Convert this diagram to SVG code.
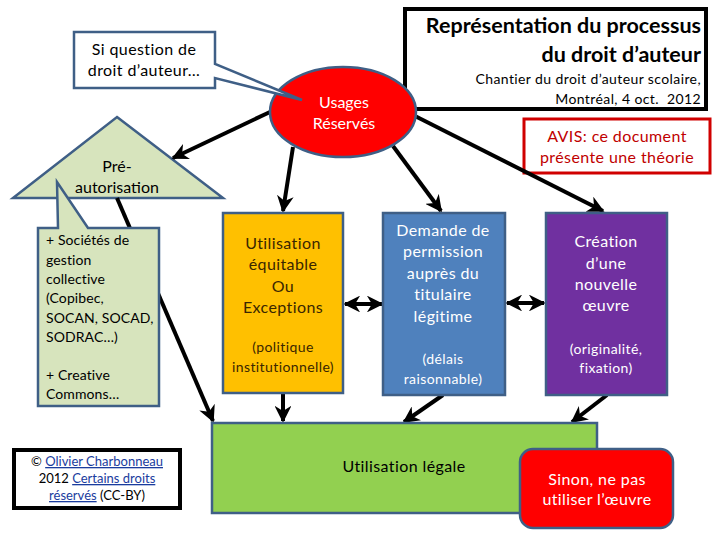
<svg xmlns="http://www.w3.org/2000/svg" width="720" height="540" viewBox="0 0 720 540">
<defs>
<style>
text{font-family:Lato,"Open Sans","Liberation Sans",sans-serif;}
.node{stroke:#3F5F86;stroke-width:2.5;}
.c{text-anchor:middle;}
.w{fill:#FFFFFF;}
.t16{font-size:16px;}
.t14{font-size:14px;}
.ls{letter-spacing:0.4px;}
.conn{stroke:#000;stroke-width:4;fill:none;}
.link{fill:#1A3C9E;text-decoration:underline;}
</style>
<marker id="ah" viewBox="0 0 10 10" refX="9" refY="5" markerWidth="4.2" markerHeight="4.2" orient="auto-start-reverse" markerUnits="strokeWidth">
<path d="M0,0 L10,5 L0,10 L3,5 z" fill="#000"/>
</marker>
</defs>
<rect width="720" height="540" fill="#FFFFFF"/>

<g id="title">
<rect x="405" y="9" width="301" height="100" fill="#FFFFFF" stroke="#000" stroke-width="4"/>
<text x="701" y="33" text-anchor="end" font-size="21.5" font-weight="bold">Représentation du processus</text>
<text x="701" y="62" text-anchor="end" font-size="21.5" font-weight="bold">du droit d’auteur</text>
<text x="701" y="84" text-anchor="end" class="t14 ls">Chantier du droit d’auteur scolaire,</text>
<text x="701" y="104" text-anchor="end" class="t14 ls" xml:space="preserve" style="white-space:pre">Montréal, 4 oct.  2012</text>
</g>

<g id="avis">
<rect x="524" y="119" width="186" height="54" fill="#FFFFFF" stroke="#D00000" stroke-width="3"/>
<text x="617" y="142" class="c t16 ls" fill="#C00000">AVIS: ce document</text>
<text x="617" y="163" class="c t16 ls" fill="#C00000">présente une théorie</text>
</g>

<g id="preautorisation">
<polygon points="117,117 223,198 13,198" fill="#D7E4BD" class="node"/>
<text x="117" y="172" class="c t16">Pré-</text>
<text x="117" y="193" class="c t16">autorisation</text>
</g>

<g id="connectors">
<line x1="270" y1="112" x2="173" y2="158" class="conn" marker-end="url(#ah)"/>
<line x1="293" y1="147" x2="283" y2="211" class="conn" marker-end="url(#ah)"/>
<line x1="393" y1="146" x2="441" y2="211" class="conn" marker-end="url(#ah)"/>
<line x1="413" y1="115" x2="603" y2="211" class="conn" marker-end="url(#ah)"/>
<line x1="117" y1="198" x2="213" y2="421" class="conn" marker-end="url(#ah)"/>
<line x1="283" y1="393" x2="283" y2="421" class="conn" marker-end="url(#ah)"/>
<line x1="443" y1="395" x2="404" y2="422" class="conn" marker-end="url(#ah)"/>
<line x1="607" y1="395" x2="572" y2="422" class="conn" marker-end="url(#ah)"/>
<line x1="345" y1="304" x2="382" y2="304" class="conn" marker-start="url(#ah)" marker-end="url(#ah)"/>
<line x1="507" y1="303" x2="544" y2="303" class="conn" marker-start="url(#ah)" marker-end="url(#ah)"/>
</g>

<g id="usages">
<ellipse cx="343" cy="112" rx="73" ry="45" fill="#FF0000" class="node"/>
<text x="344" y="108" class="c t16 w">Usages</text>
<text x="344" y="129" class="c t16 w">Réservés</text>
</g>

<g id="question">
<path d="M74,32 H215 V64 L302,100 L215,78 V88 H74 Z" fill="#FFFFFF" class="node"/>
<text x="144" y="55" class="c t16 ls">Si question de</text>
<text x="144" y="76" class="c t16 ls">droit d’auteur…</text>
</g>

<g id="societes">
<path d="M58,228 L57,182 L88,228 H159 V406 H38 V228 Z" fill="#D7E4BD" class="node"/>
<text class="t14" x="46" style="letter-spacing:0.1px">
<tspan x="46" y="245">+ Sociétés de</tspan>
<tspan x="46" y="265">gestion</tspan>
<tspan x="46" y="284">collective</tspan>
<tspan x="46" y="303">(Copibec,</tspan>
<tspan x="46" y="323">SOCAN, SOCAD,</tspan>
<tspan x="46" y="342">SODRAC…)</tspan>
<tspan x="46" y="380">+ Creative</tspan>
<tspan x="46" y="399">Commons…</tspan>
</text>
</g>

<g id="utilisation-equitable">
<rect x="223" y="213" width="120" height="180" fill="#FFC000" class="node"/>
<g fill="#3A2600">
<text x="283" y="249" class="c t16 ls">Utilisation</text>
<text x="283" y="270" class="c t16 ls">équitable</text>
<text x="283" y="292" class="c t16 ls">Ou</text>
<text x="283" y="313" class="c t16 ls">Exceptions</text>
<text x="283" y="352" class="c t14 ls">(politique</text>
<text x="283" y="372" class="c t14 ls">institutionnelle)</text>
</g>
</g>

<g id="demande">
<rect x="383" y="213" width="122" height="182" fill="#4F81BD" class="node"/>
<text x="443" y="236" class="c t16 ls w">Demande de</text>
<text x="443" y="257" class="c t16 ls w">permission</text>
<text x="443" y="279" class="c t16 ls w">auprès du</text>
<text x="443" y="300" class="c t16 ls w">titulaire</text>
<text x="443" y="322" class="c t16 ls w">légitime</text>
<text x="443" y="364" class="c t14 ls w">(délais</text>
<text x="443" y="384" class="c t14 ls w">raisonnable)</text>
</g>

<g id="creation">
<rect x="546" y="213" width="121" height="182" fill="#7030A0" class="node"/>
<text x="606" y="247" class="c t16 ls w">Création</text>
<text x="606" y="269" class="c t16 ls w">d’une</text>
<text x="606" y="290" class="c t16 ls w">nouvelle</text>
<text x="606" y="311" class="c t16 ls w">œuvre</text>
<text x="606" y="354" class="c t14 ls w">(originalité,</text>
<text x="606" y="373" class="c t14 ls w">fixation)</text>
</g>

<g id="utilisation-legale">
<rect x="212" y="423" width="385" height="90" fill="#92D050" class="node"/>
<text x="404" y="472" class="c t16 ls">Utilisation légale</text>
</g>

<g id="sinon">
<rect x="520" y="449" width="153" height="79" rx="13" fill="#FF0000" class="node"/>
<text x="597" y="485" class="c t16 ls w">Sinon, ne pas</text>
<text x="597" y="505" class="c t16 ls w">utiliser l’œuvre</text>
</g>

<g id="copyright">
<rect x="14" y="450" width="166" height="58" fill="#FFFFFF" stroke="#000" stroke-width="4"/>
<text x="97" y="466" class="c" font-size="13">© <tspan class="link">Olivier Charbonneau</tspan></text>
<text x="97" y="483" class="c" font-size="13">2012 <tspan class="link">Certains droits</tspan></text>
<text x="97" y="500" class="c" font-size="13"><tspan class="link">réservés</tspan> (CC-BY)</text>
</g>
</svg>
